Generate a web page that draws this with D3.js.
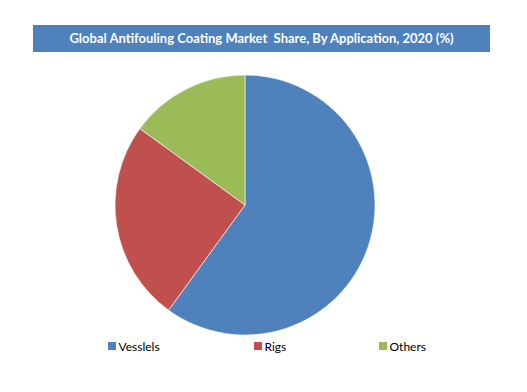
<!DOCTYPE html>
<html><head><meta charset="utf-8">
<script src="https://cdn.jsdelivr.net/npm/d3@7"></script>
<style>body{margin:0;background:#fff;} svg{display:block;} text{white-space:pre;}</style>
</head><body>
<svg id="c" width="527" height="392"></svg>
<script>
const title = "Global Antifouling Coating Market  Share, By Application, 2020 (%)";
const categories = ["Vesslels", "Rigs", "Others"];
const values = [60, 25, 15];
const colors = ["#4F81BD", "#C0504D", "#9BBB59"];

const svg = d3.select("#c");
svg.append("rect").attr("x",33).attr("y",25).attr("width",457).attr("height",27).attr("fill","#4F81BD");
svg.append("text").attr("x",261.5).attr("y",43).attr("text-anchor","middle")
  .attr("fill","#fff").attr("font-family","Lato, 'Open Sans', sans-serif").attr("font-weight","bold")
  .attr("font-size",13).text(title);

const pie = d3.pie().sort(null).value(d=>d)(values);
const arc = d3.arc().innerRadius(0).outerRadius(130);
const g = svg.append("g").attr("transform","translate(245,205)");
g.selectAll("path").data(pie).join("path").attr("d",arc)
  .attr("fill",(d,i)=>colors[i]).attr("stroke","#fff").attr("stroke-width",0.6);

const lx = [108, 254, 379];
const lg = svg.append("g");
categories.forEach((c,i)=>{
  lg.append("rect").attr("x",lx[i]).attr("y",342).attr("width",8).attr("height",8).attr("fill",colors[i]);
  lg.append("text").attr("x",lx[i]+10.5).attr("y",350.5).attr("font-family","Lato, 'Open Sans', sans-serif")
    .attr("font-size",12).attr("fill","#000").text(c);
});
</script>
</body></html>
